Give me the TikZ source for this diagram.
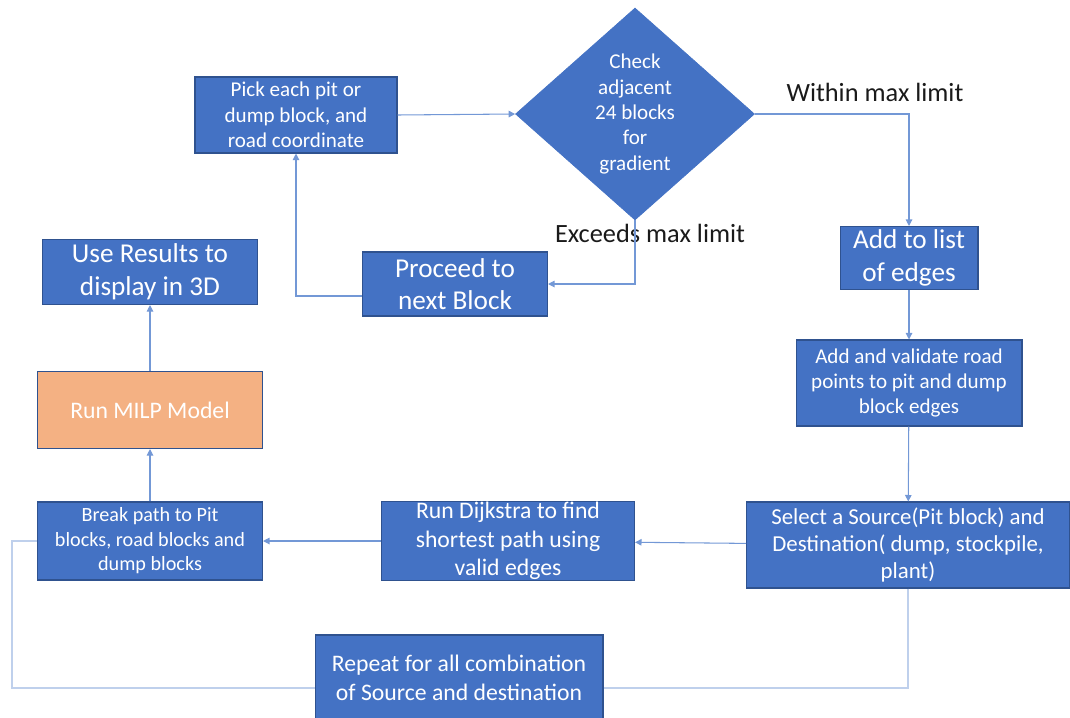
\documentclass[tikz,border=0pt]{standalone}
\usepackage{fontspec}
\setmainfont{Carlito}
\usepackage{tikz}
\usetikzlibrary{arrows.meta,calc,positioning,shapes.geometric}
\definecolor{BoxBlue}{HTML}{4472C4}
\definecolor{EdgeBlue}{HTML}{2F528F}
\definecolor{LinkBlue}{HTML}{7398D6}
\definecolor{LoopBlue}{HTML}{BFD0EC}
\definecolor{Peach}{HTML}{F4B183}
\definecolor{Ink}{HTML}{1A1A1A}

\begin{document}
\begin{tikzpicture}[
  x=0.02cm,y=-0.02cm,
  stepbox/.style={draw=EdgeBlue,line width=0.6pt,fill=BoxBlue,text=white,align=center,inner sep=0pt},
  decision/.style={diamond,draw=BoxBlue,fill=BoxBlue,text=white,align=center,inner sep=0pt,shape aspect=1.13},
  modelbox/.style={stepbox,fill=Peach},
  small/.style={font=\fontsize{12}{14.4}\selectfont},
  mid/.style={font=\fontsize{13.5}{16.2}\selectfont},
  big/.style={font=\fontsize{15.5}{18.6}\selectfont},
  tag/.style={text=Ink,font=\fontsize{15}{18}\selectfont},
  arr/.style={-{Triangle[length=1.3mm,width=1.3mm]},line width=0.6pt,color=LinkBlue},
  loop/.style={line width=0.8pt,color=LoopBlue}
]
\useasboundingbox (0,0) rectangle (1070,717);

\node[stepbox,small,minimum width=4.04cm,minimum height=1.52cm] (pick) at (296,115)
  {Pick each pit or\\dump block, and\\road coordinate};
\node[decision,small,minimum width=4.78cm,minimum height=4.24cm] (check) at (635,114)
  {Check\\adjacent\\24 blocks\\for\\gradient};
\node[stepbox,big,minimum width=2.76cm,minimum height=1.26cm] (addlist) at (909,258)
  {Add to list\\of edges};
\node[stepbox,big,minimum width=3.7cm,minimum height=1.28cm] (proceed) at (455,284)
  {Proceed to\\next Block};
\node[stepbox,big,minimum width=4.3cm,minimum height=1.3cm] (results) at (150,272)
  {Use Results to\\display in 3D};
\node[modelbox,mid,minimum width=4.5cm,minimum height=1.54cm] (milp) at (150,410)
  {Run MILP Model};
\node[stepbox,small,minimum width=4.52cm,minimum height=1.72cm] (validate) at (909,383)
  {Add and validate road\\points to pit and dump\\block edges};
\node[stepbox,font=\fontsize{13}{15.6}\selectfont,minimum width=6.46cm,minimum height=1.72cm] (select) at (908,545)
  {Select a Source(Pit block) and\\Destination( dump, stockpile,\\plant)};
\node[stepbox,mid,minimum width=5.06cm,minimum height=1.58cm] (dijkstra) at (508,541)
  {Run Dijkstra to find\\shortest path using\\valid edges};
\node[stepbox,font=\fontsize{11.5}{14}\selectfont,minimum width=4.5cm,minimum height=1.56cm] (breakup) at (150,541)
  {Break path to Pit\\blocks, road blocks and\\dump blocks};
\node[stepbox,mid,minimum width=5.76cm,minimum height=1.72cm] (repeat) at (459,678)
  {Repeat for all combination\\of Source and destination};

\node[tag] (within) at (875,92) {Within max limit};
\node[tag] (exceeds) at (650,233) {Exceeds max limit};

% main flow
\draw[arr] (pick.east)--(check.west);
\draw[arr] (check.east)-|(addlist.north);
\draw[arr] (check.south)|-(proceed.east);
\draw[arr] ($(proceed.west)+(0,12)$)-|(pick.south);
\draw[arr] (addlist)--(validate);
\draw[arr] (validate)--(select);
\draw[arr] (select)--(dijkstra);
\draw[arr] (dijkstra)--(breakup);
\draw[arr] (breakup)--(milp);
\draw[arr] (milp)--(results);

% repeat loop
\coordinate (loopright) at (908,688);
\coordinate (loopleft) at (12,688);
\draw[loop] (select.south)--(loopright)--($(repeat.east)+(0,10)$);
\draw[loop] ($(repeat.west)+(0,10)$)--(loopleft)|-(breakup.west);
\end{tikzpicture}
\end{document}
